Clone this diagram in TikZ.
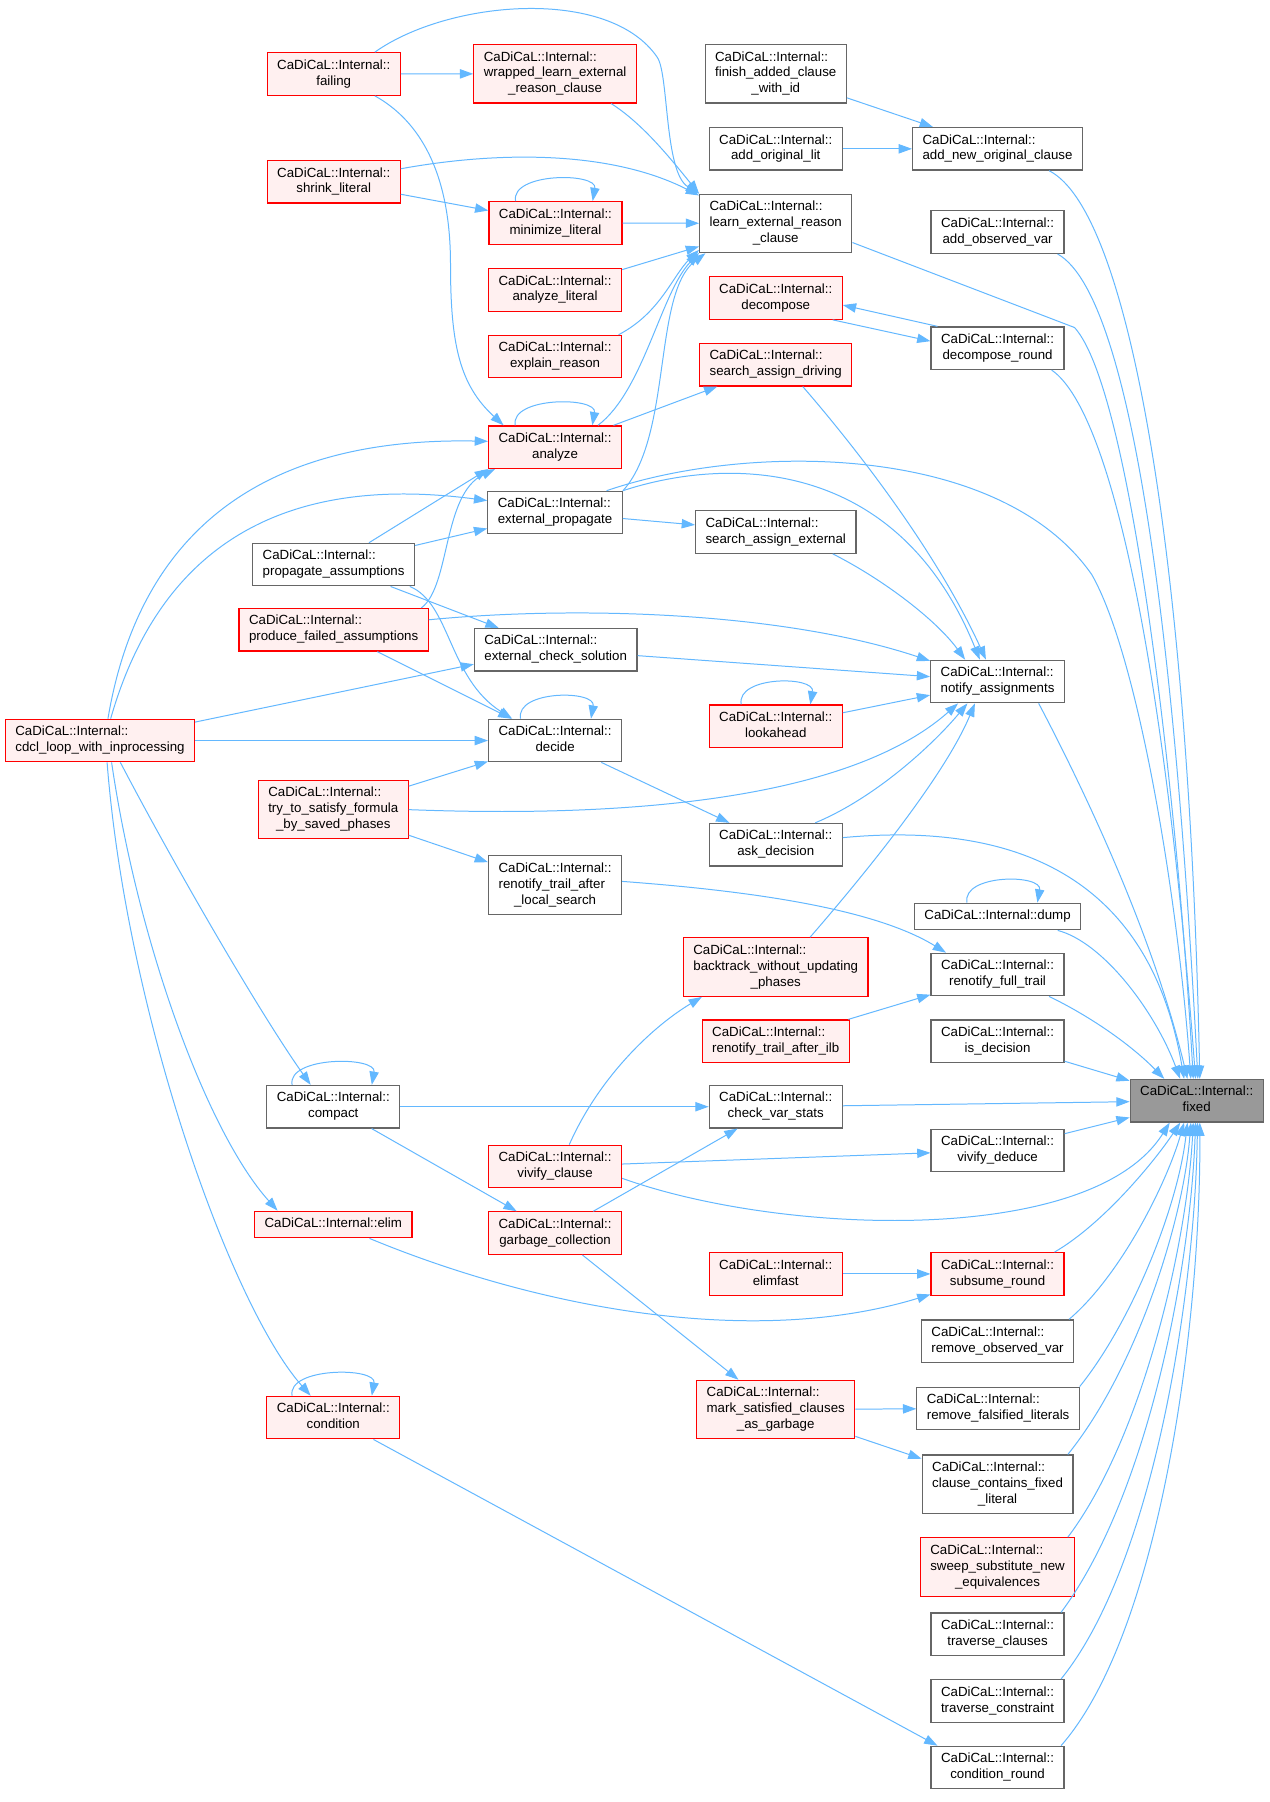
\documentclass[tikz,border=0pt]{standalone}
\usepackage{fontspec}
\setmainfont{Liberation Sans}
\usepackage{tikz}
\usepackage{xcolor}
\usetikzlibrary{arrows.meta}

\definecolor{edgeblue}{HTML}{63B8FF}
\definecolor{grey40}{HTML}{666666}
\definecolor{grey60}{HTML}{999999}
\definecolor{redfill}{HTML}{FFF0F0}
\definecolor{redline}{HTML}{FF0000}

\newcommand{\fntwo}[1]{\begin{tabular}{@{}l@{}}CaDiCaL::Internal::\\\multicolumn{1}{@{}c@{}}{#1}\end{tabular}}
\newcommand{\fnthree}[2]{\begin{tabular}{@{}l@{}}CaDiCaL::Internal::\\#1\\\multicolumn{1}{@{}c@{}}{#2}\end{tabular}}
\newcommand{\fnone}[1]{\begin{tabular}{@{}c@{}}#1\end{tabular}}

\tikzset{
  fn/.style={draw=grey40, fill=white, line width=0.9pt, inner xsep=7.5pt, inner ysep=4pt,
    font=\fontsize{10}{12}\selectfont},
  fnred/.style={fn, draw=redline, fill=redfill},
  fnsel/.style={fn, fill=grey60},
  call/.style={draw=edgeblue, line width=0.75pt, -{Triangle[length=10pt,width=7pt]}},
  selfcall/.style={call, out=100, in=80, distance=22pt}
}

\begin{document}
\begin{tikzpicture}[x=0.8647pt, y=0.8647pt]
    \path [use as bounding box, fill=white] (0, 0) rectangle (1105, -1568);

    \path (290.4, -64.4) node [fnred] (failing) {\fntwo{failing}};
    \path (483, -64.2) node [fnred] (wrapped) {\fnthree{wrapped\_learn\_external}{\_reason\_clause}};
    \path (675, -64.2) node [fn] (finish) {\fnthree{finish\_added\_clause}{\_with\_id}};
    \path (675, -129.5) node [fn] (addlit) {\fntwo{add\_original\_lit}};
    \path (868, -129.5) node [fn] (addnew) {\fntwo{add\_new\_original\_clause}};
    \path (290.4, -158.2) node [fnred] (shrink) {\fntwo{shrink\_literal}};
    \path (483.3, -194) node [fnred] (minimize) {\fntwo{minimize\_literal}};
    \path (675, -194.4) node [fn] (learn) {\fnthree{learn\_external\_reason}{\_clause}};
    \path (868, -202) node [fn] (addobs) {\fntwo{add\_observed\_var}};
    \path (483, -252.2) node [fnred] (anlit) {\fntwo{analyze\_literal}};
    \path (675, -259.3) node [fnred] (decompose) {\fntwo{decompose}};
    \path (868, -303) node [fn] (dround) {\fntwo{decompose\_round}};
    \path (483, -310.3) node [fnred] (explain) {\fntwo{explain\_reason}};
    \path (675, -317.3) node [fnred] (sad) {\fntwo{search\_assign\_driving}};
    \path (483, -389.1) node [fnred] (analyze) {\fntwo{analyze}};
    \path (483, -446) node [fn] (extprop) {\fntwo{external\_propagate}};
    \path (675, -462.9) node [fn] (sae) {\fntwo{search\_assign\_external}};
    \path (290.3, -491.3) node [fn] (propagate) {\fntwo{propagate\_assumptions}};
    \path (290.3, -548) node [fnred] (produce) {\fntwo{produce\_failed\_assumptions}};
    \path (483.5, -565.4) node [fn] (ecs) {\fntwo{external\_check\_solution}};
    \path (868, -593) node [fn] (notify) {\fntwo{notify\_assignments}};
    \path (675, -632) node [fnred] (lookahead) {\fntwo{lookahead}};
    \path (87, -644.4) node [fnred] (cdcl) {\fntwo{cdcl\_loop\_with\_inprocessing}};
    \path (483, -644.4) node [fn] (decide) {\fntwo{decide}};
    \path (290, -704.5) node [fnred] (trysat) {\fnthree{try\_to\_satisfy\_formula}{\_by\_saved\_phases}};
    \path (675, -735) node [fn] (ask) {\fntwo{ask\_decision}};
    \path (483, -770) node [fn] (rtls) {\fnthree{renotify\_trail\_after}{\_local\_search}};
    \path (868, -797.5) node [fn] (dump) {\fnone{CaDiCaL::Internal::dump}};
    \path (675, -841.5) node [fnred] (backtrack) {\fnthree{backtrack\_without\_updating}{\_phases}};
    \path (868, -848) node [fn] (rft) {\fntwo{renotify\_full\_trail}};
    \path (675, -906) node [fnred] (ilb) {\fntwo{renotify\_trail\_after\_ilb}};
    \path (868, -906) node [fn] (isdec) {\fntwo{is\_decision}};
    \path (1041.3, -957.8) node [fnsel] (fixed) {\fntwo{fixed}};
    \path (290, -963) node [fn] (compact) {\fntwo{compact}};
    \path (675, -963) node [fn] (cvs) {\fntwo{check\_var\_stats}};
    \path (868, -1001) node [fn] (vded) {\fntwo{vivify\_deduce}};
    \path (483, -1015) node [fnred] (vclause) {\fntwo{vivify\_clause}};
    \path (290, -1065.5) node [fnred] (elim) {\fnone{CaDiCaL::Internal::elim}};
    \path (483, -1073) node [fnred] (garbage) {\fntwo{garbage\_collection}};
    \path (675, -1108.5) node [fnred] (elimfast) {\fntwo{elimfast}};
    \path (868, -1108.5) node [fnred] (subsume) {\fntwo{subsume\_round}};
    \path (868, -1167) node [fn] (rov) {\fntwo{remove\_observed\_var}};
    \path (675, -1226.5) node [fnred] (mark) {\fnthree{mark\_satisfied\_clauses}{\_as\_garbage}};
    \path (868.5, -1225.5) node [fn] (rfl) {\fntwo{remove\_falsified\_literals}};
    \path (290, -1233.5) node [fnred] (condition) {\fntwo{condition}};
    \path (868, -1291.5) node [fn] (cc) {\fnthree{clause\_contains\_fixed}{\_literal}};
    \path (868, -1363.5) node [fnred] (sweep) {\fnthree{sweep\_substitute\_new}{\_equivalences}};
    \path (868, -1422) node [fn] (tclauses) {\fntwo{traverse\_clauses}};
    \path (868, -1480) node [fn] (tcons) {\fntwo{traverse\_constraint}};
    \path (868, -1538) node [fn] (condround) {\fntwo{condition\_round}};

    % callers of learn_external_reason_clause
    \draw [call] (failing) -- (wrapped);
    \draw [call] (failing.28) .. controls (390, 0) and (530, 12) .. (572, -50)
        .. controls (582, -65) and (578, -150) .. (learn.north west);
    \draw [call] (wrapped.-28) .. controls (560, -108) and (585, -140) .. (learn.north west);
    \draw [call] (shrink.11) .. controls (430, -132) and (530, -130) .. (learn.160);
    \draw [call] (shrink) -- (minimize);
    \draw [selfcall] ([xshift=-30pt]minimize.north) to ([xshift=28pt]minimize.north);
    \draw [call] (minimize) -- (learn);
    \draw [call] (anlit) -- (learn);
    \draw [call] (explain.19) .. controls (575, -272) and (585, -240) .. (learn.199);
    \draw [call] (analyze.27) .. controls (560, -340) and (575, -255) .. (learn.201);
    \draw [call] (extprop.north east) .. controls (585, -380) and (568, -255) .. (learn.203);
    \draw [call] (finish) -- (addnew);
    \draw [call] (addlit) -- (addnew);
    \draw [call] (dround.160) -- (decompose.-6);
    \draw [call] (decompose.-21) -- (dround.174);

    % analyze and its callers
    \draw [call] (failing.-28) .. controls (365, -105) and (392, -150) .. (392, -230)
        .. controls (392, -300) and (400, -335) .. (analyze.157);
    \draw [selfcall] ([xshift=-30pt]analyze.north) to ([xshift=28pt]analyze.north);
    \draw [call] (analyze) -- (sad);
    \draw [call] (cdcl.70) .. controls (120, -470) and (220, -380) .. (analyze.175);
    \draw [call] (cdcl.64) .. controls (135, -490) and (230, -410) .. (extprop.170);
    \draw [call] (propagate) -- (analyze.south west);
    \draw [call] (produce.14) .. controls (392, -510) and (385, -430) .. (analyze.200);
    \draw [call] (propagate) -- (extprop);
    \draw [call] (propagate) -- (ecs);
    \draw [call] (propagate.-16) .. controls (392, -525) and (390, -590) .. (decide.153);
    \draw [call] (produce) -- (decide);
    \draw [call] (produce.6) .. controls (500, -527) and (680, -532) .. (notify.163);
    \draw [call] (cdcl.11) -- (ecs.190);
    \draw [call] (cdcl) -- (decide);
    \draw [call] (extprop) -- (sae);

    % notify_assignments
    \draw [call] (sad.-39) .. controls (745, -390) and (815, -480) .. (notify.118);
    \draw [call] (extprop.north east) .. controls (630, -398) and (780, -395) .. (notify.129);
    \draw [call] (sae.-21) .. controls (770, -505) and (815, -540) .. (notify.146);
    \draw [call] (ecs) -- (notify);
    \draw [selfcall] ([xshift=-26pt]lookahead.north) to ([xshift=26pt]lookahead.north);
    \draw [call] (lookahead) -- (notify);
    \draw [selfcall] ([xshift=-26pt]decide.north) to ([xshift=27pt]decide.north);
    \draw [call] (decide) -- (ask);
    \draw [call] (trysat) -- (decide);
    \draw [call] (trysat.east) .. controls (550, -712) and (740, -695) .. (notify.209);
    \draw [call] (trysat) -- (rtls);
    \draw [call] (ask.29) .. controls (760, -695) and (810, -650) .. (notify.216);
    \draw [call] (backtrack.41) .. controls (740, -775) and (820, -680) .. (notify.224);
    \draw [call] (vclause.57) .. controls (520, -940) and (565, -895) .. (backtrack.202);
    \draw [call] (rtls.3) .. controls (650, -775) and (760, -790) .. (rft.157);
    \draw [call] (ilb) -- (rft);
    \draw [selfcall] ([xshift=-23pt]dump.north) to ([xshift=30pt]dump.north);

    % lower left part
    \draw [call] (cdcl.-47) .. controls (150, -750) and (225, -880) .. (compact.136);
    \draw [call] (cdcl.-62) .. controls (120, -820) and (180, -985) .. (elim.166);
    \draw [call] (cdcl.-72) .. controls (110, -880) and (200, -1135) .. (condition.136);
    \draw [selfcall] ([xshift=-31pt]compact.north) to ([xshift=29pt]compact.north);
    \draw [selfcall] ([xshift=-31pt]condition.north) to ([xshift=29pt]condition.north);
    \draw [call] (compact) -- (cvs);
    \draw [call] (compact) -- (garbage);
    \draw [call] (garbage) -- (cvs);
    \draw [call] (vclause) -- (vded);
    \draw [call] (elim.-21) .. controls (460, -1135) and (650, -1175) .. (subsume.197);
    \draw [call] (elimfast) -- (subsume);
    \draw [call] (garbage) -- (mark);
    \draw [call] (mark) -- (rfl);
    \draw [call] (mark) -- (cc);
    \draw [call] (condition) -- (condround.160);

    % callers of fixed
    \draw [call] (addnew.-23) .. controls (985, -185) and (1035, -500) .. (fixed.82);
    \draw [call] (addobs.-20) .. controls (990, -260) and (1025, -600) .. (fixed.87);
    \draw [call] (learn.-14) -- (935, -285) .. controls (985, -340) and (1025, -700) .. (fixed.99);
    \draw [call] (dround.-22) .. controls (970, -360) and (1015, -600) .. (fixed.93);
    \draw [call] (extprop.23) .. controls (650, -385) and (870, -385) .. (950, -500)
        .. controls (990, -570) and (1025, -780) .. (fixed.105);
    \draw [call] (notify.-28) .. controls (950, -700) and (1005, -820) .. (fixed.113);
    \draw [call] (ask.6) .. controls (880, -715) and (1000, -760) .. (fixed.120);
    \draw [call] (dump.-13) .. controls (960, -820) and (1005, -880) .. (fixed.127);
    \draw [call] (rft.-23) .. controls (950, -885) and (985, -910) .. (fixed.146);
    \draw [call] (isdec) -- (fixed);
    \draw [call] (cvs) -- (fixed);
    \draw [call] (vded) -- (fixed);
    \draw [call] (vclause.-10) .. controls (680, -1075) and (950, -1085) .. (fixed.-141);
    \draw [call] (subsume.21) .. controls (960, -1065) and (1005, -1010) .. (fixed.-127);
    \draw [call] (rov.17) .. controls (975, -1110) and (1015, -1030) .. (fixed.-120);
    \draw [call] (rfl.15) .. controls (985, -1150) and (1025, -1050) .. (fixed.-113);
    \draw [call] (cc.23) .. controls (990, -1190) and (1030, -1060) .. (fixed.-105);
    \draw [call] (sweep.23) .. controls (995, -1250) and (1033, -1080) .. (fixed.-99);
    \draw [call] (tclauses.19) .. controls (1000, -1300) and (1036, -1100) .. (fixed.-93);
    \draw [call] (tcons.19) .. controls (1005, -1360) and (1040, -1120) .. (fixed.-88);
    \draw [call] (condround.19) .. controls (1010, -1420) and (1045, -1150) .. (fixed.-82);
\end{tikzpicture}
\end{document}
